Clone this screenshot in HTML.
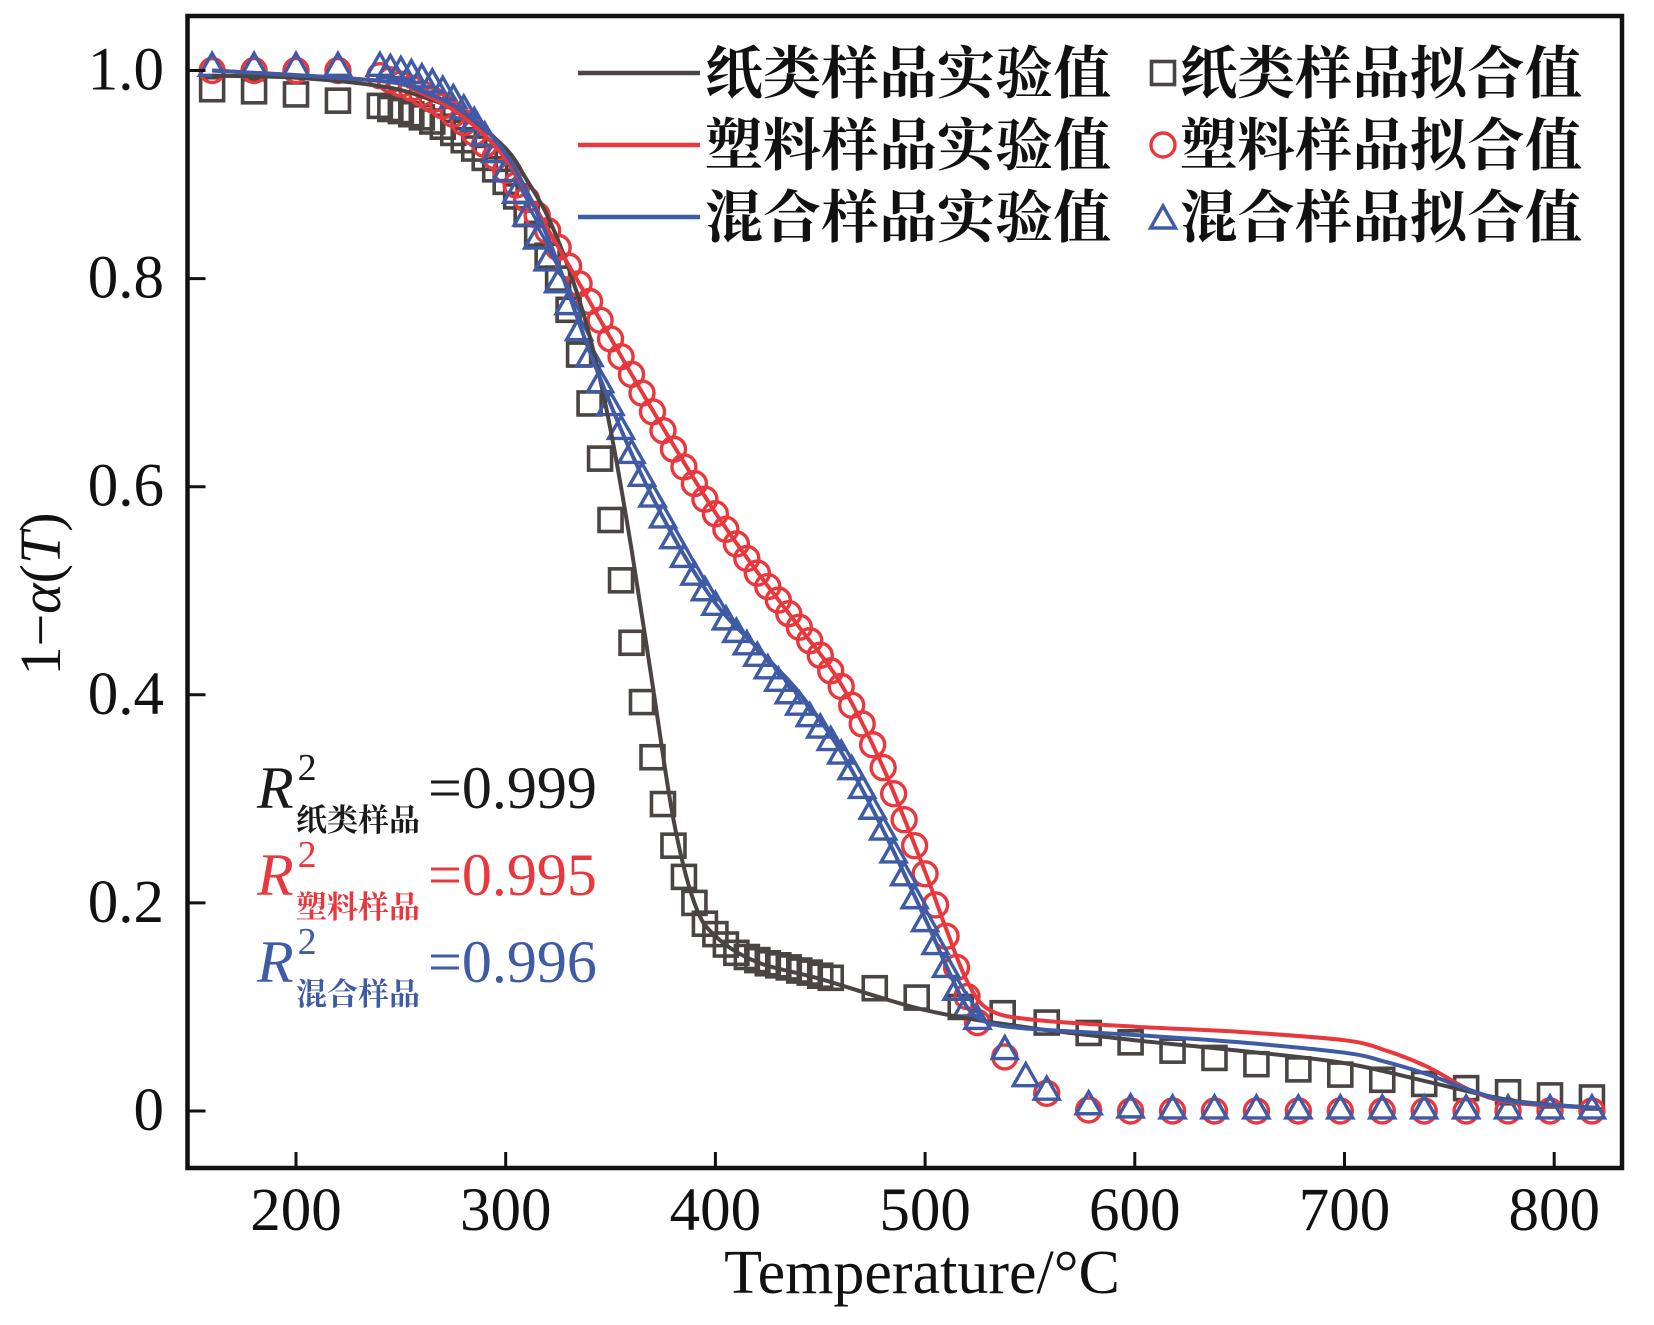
<!DOCTYPE html>
<html><head><meta charset="utf-8"><style>
html,body{margin:0;padding:0;background:#fff;}
svg{display:block;}
</style></head><body>
<svg id="chart" width="1654" height="1325" viewBox="0 0 1654 1325" xmlns="http://www.w3.org/2000/svg">
<rect x="0" y="0" width="1654" height="1325" fill="#fff"/>
<g id="plot"></g>
<g id="axes"></g>
<g id="legend"></g>
<g font-family="Liberation Serif, Noto Serif CJK SC, serif">
  <text x="257" y="808" font-size="60" fill="#1a1a1a"><tspan font-style="italic">R</tspan><tspan font-size="38" dx="4" dy="-28">2</tspan></text>
  <text x="296" y="831" font-size="31" fill="#1a1a1a" font-family="Noto Serif CJK SC, serif" font-weight="bold">纸类样品</text>
  <text x="428" y="808" font-size="60" fill="#1a1a1a">=0.999</text>
  <text x="257" y="895" font-size="60" fill="#e8383d"><tspan font-style="italic">R</tspan><tspan font-size="38" dx="4" dy="-28">2</tspan></text>
  <text x="296" y="918" font-size="31" fill="#e8383d" font-family="Noto Serif CJK SC, serif" font-weight="bold">塑料样品</text>
  <text x="428" y="895" font-size="60" fill="#e8383d">=0.995</text>
  <text x="257" y="982" font-size="60" fill="#3f5ba6"><tspan font-style="italic">R</tspan><tspan font-size="38" dx="4" dy="-28">2</tspan></text>
  <text x="296" y="1005" font-size="31" fill="#3f5ba6" font-family="Noto Serif CJK SC, serif" font-weight="bold">混合样品</text>
  <text x="428" y="982" font-size="60" fill="#3f5ba6">=0.996</text>
</g>
</svg>
<script>
// ---- data ----
const paperExpT = [160,200,240,260,280,300,310,320,330,340,350,360,370,380,390,400,420,450,500,550,600,650,700,740,780,820];
const paperExpV = [0.995,0.993,0.985,0.975,0.958,0.925,0.895,0.86,0.81,0.745,0.655,0.54,0.41,0.28,0.2,0.168,0.143,0.127,0.097,0.08,0.068,0.058,0.046,0.028,0.01,0.003];
const plasticExpT = [160,240,260,280,300,320,340,360,380,400,420,440,460,480,500,510,520,530,550,600,650,700,720,740,760,780,820];
const plasticExpV = [1.0,0.99,0.978,0.955,0.915,0.848,0.778,0.708,0.64,0.575,0.518,0.465,0.41,0.33,0.23,0.175,0.125,0.098,0.088,0.081,0.076,0.068,0.058,0.042,0.02,0.008,0.003];
const mixedExpT = [160,240,260,280,300,320,340,360,380,400,420,440,460,480,500,510,520,530,550,600,650,700,720,740,760,780,820];
const mixedExpV = [1.0,0.99,0.98,0.96,0.92,0.84,0.73,0.632,0.552,0.488,0.445,0.402,0.345,0.27,0.185,0.14,0.1,0.085,0.079,0.073,0.066,0.056,0.047,0.035,0.02,0.009,0.003];

const paperFitT = [160,180,200,220,240,245,250,255,260,265,270,275,280,285,290,295,300,305,310,315,320,325,330,335,340,345,350,355,360,365,370,375,380,385,390,395,400,405,410,415,420,425,430,435,440,445,450,455,476,496,517,537,558,578,598,618,638,658,678,698,718,738,758,778,798,818];
const paperFitV = [0.982,0.98,0.977,0.971,0.966,0.963,0.961,0.958,0.955,0.951,0.946,0.94,0.933,0.925,0.916,0.905,0.893,0.879,0.862,0.843,0.822,0.8,0.77,0.727,0.68,0.627,0.568,0.51,0.45,0.393,0.34,0.295,0.255,0.225,0.2,0.18,0.17,0.16,0.152,0.148,0.145,0.142,0.14,0.138,0.135,0.133,0.13,0.128,0.118,0.109,0.1,0.094,0.085,0.075,0.066,0.058,0.051,0.045,0.04,0.035,0.03,0.026,0.022,0.018,0.015,0.013];
const plasticFitT = [160,180,200,220,240,245,250,255,260,265,270,275,280,285,290,295,300,305,310,315,320,325,330,335,340,345,350,355,360,365,370,375,380,385,390,395,400,405,410,415,420,425,430,435,440,445,450,455,460,465,470,475,480,485,490,495,500,505,510,515,520,525,538,558,578,598,618,638,658,678,698,718,738,758,778,798,818];
const plasticFitV = [1.0,1.0,1.0,1.0,0.995,0.991,0.987,0.983,0.978,0.972,0.966,0.958,0.95,0.94,0.929,0.917,0.904,0.89,0.876,0.861,0.846,0.83,0.812,0.795,0.778,0.76,0.742,0.725,0.708,0.69,0.672,0.654,0.636,0.619,0.603,0.588,0.574,0.559,0.545,0.531,0.517,0.504,0.491,0.478,0.465,0.452,0.438,0.423,0.408,0.39,0.372,0.352,0.33,0.305,0.28,0.255,0.228,0.198,0.168,0.138,0.11,0.085,0.052,0.017,0.001,0,0,0,0,0,0,0,0,0,0,0,0];
const mixedFitT = [160,180,200,220,240,245,250,255,260,265,270,275,280,285,290,295,300,305,310,315,320,325,330,335,340,345,350,355,360,365,370,375,380,385,390,395,400,405,410,415,420,425,430,435,440,445,450,455,460,465,470,475,480,485,490,495,500,505,510,515,520,525,538,548,558,578,598,618,638,658,678,698,718,738,758,778,798,818];
const mixedFitV = [1.004,1.004,1.004,1.004,1.004,1.002,1.0,0.997,0.993,0.988,0.981,0.973,0.963,0.951,0.937,0.921,0.903,0.882,0.86,0.838,0.817,0.796,0.775,0.75,0.725,0.7,0.678,0.655,0.632,0.61,0.59,0.57,0.55,0.532,0.515,0.5,0.486,0.472,0.46,0.448,0.437,0.425,0.413,0.401,0.39,0.379,0.368,0.356,0.343,0.328,0.31,0.29,0.27,0.248,0.226,0.204,0.182,0.16,0.138,0.116,0.1,0.088,0.059,0.033,0.02,0.006,0.003,0.002,0.002,0.002,0.002,0.002,0.002,0.002,0.002,0.002,0.002,0.002];

const xTicks = [200,300,400,500,600,700,800];
const yTicks = [0,0.2,0.4,0.6,0.8,1.0];
const yTickLabels = ["0","0.2","0.4","0.6","0.8","1.0"];
const legendLabels = ["纸类样品实验值","塑料样品实验值","混合样品实验值"];
const legendFitLabels = ["纸类样品拟合值","塑料样品拟合值","混合样品拟合值"];

// ---- scales ----
const X0=187.5, X1=1622, Y0=16, Y1=1168;
function sx(t){ return 296 + (t-200)*2.097; }
function sy(v){ return 1111 - v*1040.5; }
const NS="http://www.w3.org/2000/svg";
const C={paper:"#4a4443",plastic:"#e8383d",mixed:"#3f5ba6"};
const plot=document.getElementById('plot');
const axes=document.getElementById('axes');
const legend=document.getElementById('legend');
function mk(tag,attrs,parent){ const e=document.createElementNS(NS,tag); for(const k in attrs) e.setAttribute(k,attrs[k]); parent.appendChild(e); return e; }

function smoothPath(T,V){
  const p=T.map((t,i)=>[sx(t),sy(V[i])]);
  let d="M"+p[0][0].toFixed(1)+","+p[0][1].toFixed(1);
  for(let i=0;i<p.length-1;i++){
    const p0=p[i-1]||p[i], p1=p[i], p2=p[i+1], p3=p[i+2]||p2;
    const c1=[p1[0]+(p2[0]-p0[0])/6, p1[1]+(p2[1]-p0[1])/6];
    const c2=[p2[0]-(p3[0]-p1[0])/6, p2[1]-(p3[1]-p1[1])/6];
    d+=" C"+c1[0].toFixed(1)+","+c1[1].toFixed(1)+" "+c2[0].toFixed(1)+","+c2[1].toFixed(1)+" "+p2[0].toFixed(1)+","+p2[1].toFixed(1);
  }
  return d;
}
function square(x,y,col,g){ return mk('rect',{x:x-11.5,y:y-11.5,width:23,height:23,fill:'none',stroke:col,'stroke-width':3.6},g); }
function circle(x,y,col,g){ return mk('circle',{cx:x,cy:y,r:12,fill:'none',stroke:col,'stroke-width':3.4},g); }
function tri(x,y,col,g){ return mk('polygon',{points:(x)+","+(y-13)+" "+(x-12.5)+","+(y+9)+" "+(x+12.5)+","+(y+9),fill:'none',stroke:col,'stroke-width':3.4,'stroke-linejoin':'miter'},g); }

// markers
const gSq=mk('g',{},plot);


paperFitT.forEach((t,i)=>{ const e=square(sx(t),sy(paperFitV[i]),C.paper,gSq);

 });
const gCi=mk('g',{},plot);


plasticFitT.forEach((t,i)=>{ const e=circle(sx(t),sy(plasticFitV[i]),C.plastic,gCi);

 });
const gTr=mk('g',{},plot);


mixedFitT.forEach((t,i)=>{ const e=tri(sx(t),sy(mixedFitV[i]),C.mixed,gTr);

 });

// lines
const l1=mk('path',{d:smoothPath(paperExpT,paperExpV),fill:'none',stroke:C.paper,'stroke-width':4},plot);


const l2=mk('path',{d:smoothPath(plasticExpT,plasticExpV),fill:'none',stroke:C.plastic,'stroke-width':4},plot);


const l3=mk('path',{d:smoothPath(mixedExpT,mixedExpV),fill:'none',stroke:C.mixed,'stroke-width':4},plot);



// axes frame
const fr=mk('rect',{x:X0,y:Y0,width:X1-X0,height:Y1-Y0,fill:'none',stroke:'#111','stroke-width':4.5},axes);


xTicks.forEach(t=>{
  const x=sx(t);
  const tk=mk('line',{x1:x,y1:Y1,x2:x,y2:Y1-16,stroke:'#111','stroke-width':3},axes);
  
  
  const lb=mk('text',{x:x,y:1230,'font-size':61,'text-anchor':'middle','font-family':'Liberation Serif, serif',fill:'#111'},axes);
  lb.textContent=t;
  
  
});
yTicks.forEach((v,i)=>{
  const y=sy(v);
  const tk=mk('line',{x1:X0,y1:y,x2:X0+18,y2:y,stroke:'#111','stroke-width':3},axes);
  
  
  const lb=mk('text',{x:164,y:y+19,'font-size':61,'text-anchor':'end','font-family':'Liberation Serif, serif',fill:'#111'},axes);
  lb.textContent=yTickLabels[i];
  
  
});
const xt=mk('text',{x:922,y:1293,'font-size':62,'text-anchor':'middle','font-family':'Liberation Serif, serif',fill:'#111'},axes);
xt.textContent='Temperature/°C';


const yt=mk('text',{x:0,y:0,'font-size':58,'text-anchor':'middle','font-family':'Liberation Serif, serif',fill:'#111',transform:'translate(60,594) rotate(-90)'},axes);
yt.innerHTML='1−<tspan font-style="italic">α</tspan>(<tspan font-style="italic">T</tspan>)';



// legend
const cols=[C.paper,C.plastic,C.mixed];
const rowsY=[73,145,217];
rowsY.forEach((y,i)=>{
  const ln=mk('line',{x1:578,y1:y,x2:700,y2:y,stroke:cols[i],'stroke-width':4.5},legend);
  
  
  const t1=mk('text',{x:705,y:y+20,'font-size':57,'font-family':'Liberation Serif, Noto Serif CJK SC, serif','font-weight':'bold',fill:'#111',textLength:406,lengthAdjust:'spacingAndGlyphs'},legend);
  t1.textContent=legendLabels[i];
  
  
  let mkEl;
  if(i===0) mkEl=square(1163,y,cols[i],legend);
  else if(i===1) mkEl=circle(1163,y,cols[i],legend);
  else mkEl=tri(1163,y+2,cols[i],legend);
  
  
  const t2=mk('text',{x:1180,y:y+20,'font-size':57,'font-family':'Liberation Serif, Noto Serif CJK SC, serif','font-weight':'bold',fill:'#111',textLength:402,lengthAdjust:'spacingAndGlyphs'},legend);
  t2.textContent=legendFitLabels[i];
  
  
});
</script>
</body></html>
